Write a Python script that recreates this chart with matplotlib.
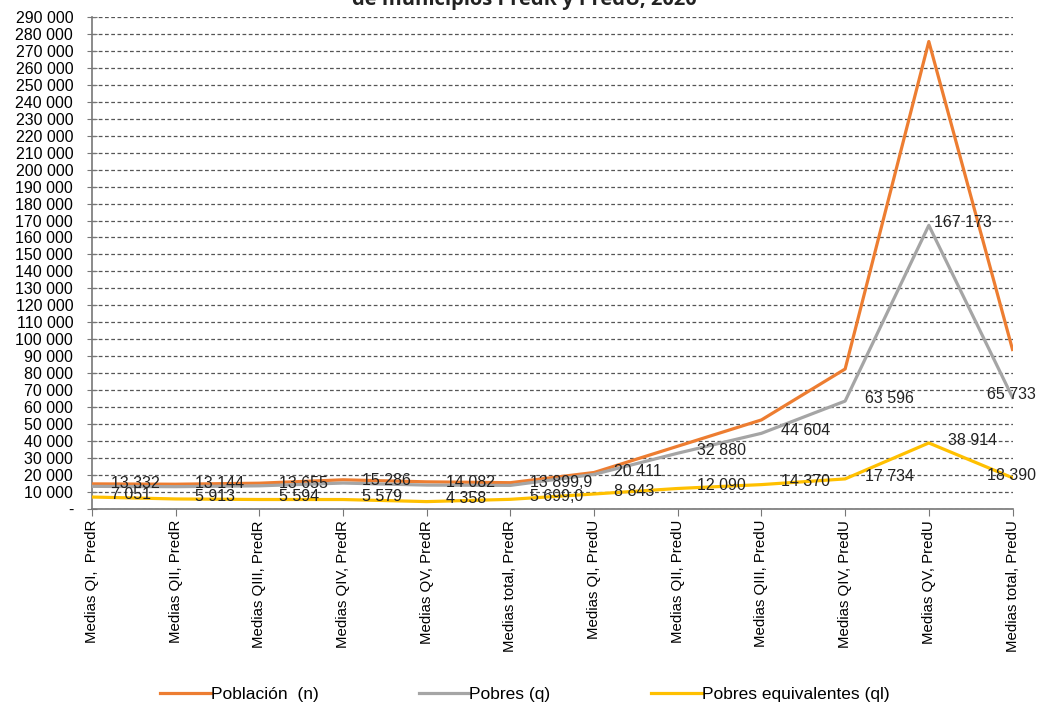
import matplotlib.pyplot as plt
from matplotlib.ticker import FuncFormatter, MultipleLocator

plt.rcParams['font.family'] = ['Liberation Sans', 'DejaVu Sans']

categorias = ['Medias QI,  PredR', 'Medias QII, PredR', 'Medias QIII, PredR',
              'Medias QIV, PredR', 'Medias QV, PredR', 'Medias total, PredR',
              'Medias QI, PredU', 'Medias QII, PredU', 'Medias QIII, PredU',
              'Medias QIV, PredU', 'Medias QV, PredU', 'Medias total, PredU']

poblacion = [14800, 14600, 15200, 17200, 16000, 15500,
             21500, 37000, 52500, 82500, 275500, 94000]
pobres = [13332, 13144, 13655, 15286, 14082, 13899.9,
          20411, 32880, 44604, 63596, 167173, 65733]
pobres_eq = [7051, 5913, 5594, 5579, 4358, 5699.0,
             8843, 12090, 14370, 17734, 38914, 18390]

etiq_pobres = ['13 332', '13 144', '13 655', '15 286', '14 082', '13 899,9',
               '20 411', '32 880', '44 604', '63 596', '167 173', '65 733']
etiq_eq = ['7 051', '5 913', '5 594', '5 579', '4 358', '5 699,0',
           '8 843', '12 090', '14 370', '17 734', '38 914', '18 390']

c_pob = '#ED7D31'
c_pobres = '#A5A5A5'
c_eq = '#FFC000'

fig = plt.figure(figsize=(10.39, 7.04), dpi=100)
ax = fig.add_axes([0.0885, 0.277, 0.886, 0.699])

x = list(range(len(categorias)))
ax.plot(x, poblacion, color=c_pob, lw=2.3, label='Población  (n)', zorder=3)
ax.plot(x, pobres, color=c_pobres, lw=2.3, label='Pobres (q)', zorder=3)
ax.plot(x, pobres_eq, color=c_eq, lw=2.3, label='Pobres equivalentes (ql)', zorder=3)


def etiqueta(i, valor, texto):
    ultimo = i == len(x) - 1
    dx = 17 if ultimo else 14
    if texto == '167 173':
        dx = 4
    ax.annotate(texto, (i, valor), xytext=(dx, 2), textcoords='offset points',
                ha='right' if ultimo else 'left', va='center', fontsize=11.5,
                color='#222222', zorder=4)


for i in x:
    etiqueta(i, pobres[i], etiq_pobres[i])
    etiqueta(i, pobres_eq[i], etiq_eq[i])

ax.set_xlim(0, len(x) - 1)
ax.set_ylim(0, 290000)
ax.yaxis.set_major_locator(MultipleLocator(10000))
ax.yaxis.set_major_formatter(FuncFormatter(
    lambda v, p: '-' if v == 0 else f'{int(v):,}'.replace(',', ' ')))
ax.set_xticks(x)
ax.set_xticklabels(categorias, rotation=90, fontsize=10.8)
ax.tick_params(axis='y', labelsize=11.5, direction='inout', length=7, color='#777777', pad=10)
ax.tick_params(axis='x', direction='out', length=5, color='#777777', pad=3)

ax.grid(axis='y', linestyle=(0, (3, 2)), color='#555555', lw=0.9)
for s in ['top', 'right']:
    ax.spines[s].set_visible(False)
for s in ['left', 'bottom']:
    ax.spines[s].set_color('#777777')
    ax.spines[s].set_linewidth(1.2)

fig.legend(loc='center', bbox_to_anchor=(0.505, 0.013), ncol=3, frameon=False,
           fontsize=12.5, handlelength=2.9, handletextpad=0.0, columnspacing=5.8)

fig.text(0.505, 0.993, 'de municipios PredR y PredU, 2020', ha='center', va='baseline',
         fontsize=14.5, fontweight='bold', family=['Open Sans', 'DejaVu Sans'], color='#222222')

fig.savefig('out.png', dpi=100)
